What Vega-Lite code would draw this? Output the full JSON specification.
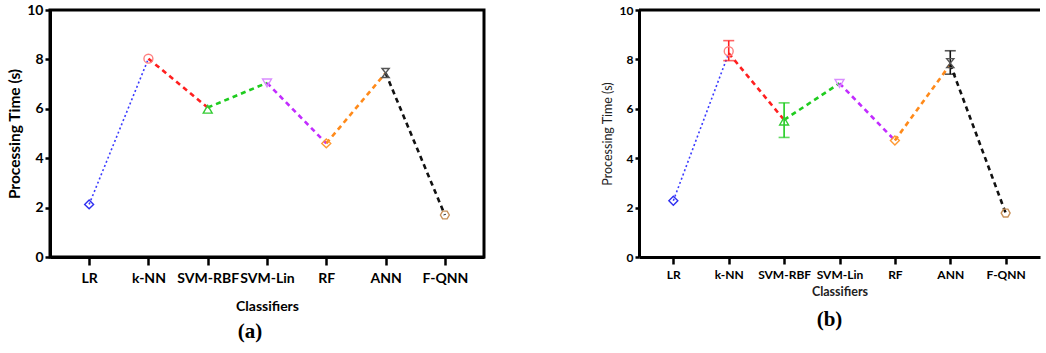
{
  "$schema": "https://vega.github.io/schema/vega-lite/v6.json",
  "background": "white",
  "padding": {"left": 6, "top": 1, "right": 0, "bottom": 0},
  "spacing": 115,
  "config": {"view": {"stroke": null}, "axis": {"grid": false}},
  "datasets": {
    "pts": [
      {"panel": "a", "classifier": "LR", "value": 2.13},
      {"panel": "a", "classifier": "k-NN", "value": 8.03},
      {"panel": "a", "classifier": "SVM-RBF", "value": 5.98},
      {"panel": "a", "classifier": "SVM-Lin", "value": 7.05},
      {"panel": "a", "classifier": "RF", "value": 4.6},
      {"panel": "a", "classifier": "ANN", "value": 7.45},
      {"panel": "a", "classifier": "F-QNN", "value": 1.7},
      {"panel": "b", "classifier": "LR", "value": 2.28},
      {"panel": "b", "classifier": "k-NN", "value": 8.33, "lo": 7.95, "hi": 8.76},
      {"panel": "b", "classifier": "SVM-RBF", "value": 5.5, "lo": 4.84, "hi": 6.24},
      {"panel": "b", "classifier": "SVM-Lin", "value": 7.03},
      {"panel": "b", "classifier": "RF", "value": 4.72},
      {"panel": "b", "classifier": "ANN", "value": 7.85, "lo": 7.4, "hi": 8.35},
      {"panel": "b", "classifier": "F-QNN", "value": 1.78}
    ],
    "segs": [
      {"panel": "a", "seg": "LR", "classifier": "LR", "value": 2.13},
      {"panel": "a", "seg": "LR", "classifier": "k-NN", "value": 8.03},
      {"panel": "a", "seg": "k-NN", "classifier": "k-NN", "value": 8.03},
      {"panel": "a", "seg": "k-NN", "classifier": "SVM-RBF", "value": 6.05},
      {"panel": "a", "seg": "SVM-RBF", "classifier": "SVM-RBF", "value": 6.05},
      {"panel": "a", "seg": "SVM-RBF", "classifier": "SVM-Lin", "value": 7.05},
      {"panel": "a", "seg": "SVM-Lin", "classifier": "SVM-Lin", "value": 7.05},
      {"panel": "a", "seg": "SVM-Lin", "classifier": "RF", "value": 4.6},
      {"panel": "a", "seg": "RF", "classifier": "RF", "value": 4.6},
      {"panel": "a", "seg": "RF", "classifier": "ANN", "value": 7.45},
      {"panel": "a", "seg": "ANN", "classifier": "ANN", "value": 7.45},
      {"panel": "a", "seg": "ANN", "classifier": "F-QNN", "value": 1.7},
      {"panel": "b", "seg": "LR", "classifier": "LR", "value": 2.28},
      {"panel": "b", "seg": "LR", "classifier": "k-NN", "value": 8.25},
      {"panel": "b", "seg": "k-NN", "classifier": "k-NN", "value": 8.25},
      {"panel": "b", "seg": "k-NN", "classifier": "SVM-RBF", "value": 5.55},
      {"panel": "b", "seg": "SVM-RBF", "classifier": "SVM-RBF", "value": 5.55},
      {"panel": "b", "seg": "SVM-RBF", "classifier": "SVM-Lin", "value": 7.03},
      {"panel": "b", "seg": "SVM-Lin", "classifier": "SVM-Lin", "value": 7.03},
      {"panel": "b", "seg": "SVM-Lin", "classifier": "RF", "value": 4.72},
      {"panel": "b", "seg": "RF", "classifier": "RF", "value": 4.72},
      {"panel": "b", "seg": "RF", "classifier": "ANN", "value": 7.8},
      {"panel": "b", "seg": "ANN", "classifier": "ANN", "value": 7.8},
      {"panel": "b", "seg": "ANN", "classifier": "F-QNN", "value": 1.78}
    ]
  },
  "hconcat": [
    {
      "width": 434,
      "height": 247,
      "view": {"stroke": "black", "strokeWidth": 3},
      "title": {"text": "(a)", "orient": "bottom", "dx": -17, "font": "Liberation Serif", "fontSize": 21, "fontWeight": "bold", "color": "black", "offset": 8},
      "layer": [
        {
          "data": {"name": "segs"},
          "transform": [{"filter": "datum.panel == 'a' && datum.seg == 'LR'"}],
          "mark": {"type": "line", "strokeDash": [2, 2.5], "strokeWidth": 1.6},
          "encoding": {
            "x": {"field": "classifier", "type": "ordinal", "sort": ["LR", "k-NN", "SVM-RBF", "SVM-Lin", "RF", "ANN", "F-QNN"], "scale": {"type": "point", "padding": 0.66}, "title": "Classifiers",
              "axis": {"domainWidth": 3, "domainColor": "black", "tickSize": 8, "tickWidth": 2.5, "tickColor": "black", "labelFont": "Lato", "labelFontSize": 14, "labelFontWeight": "bold", "labelColor": "black", "labelPadding": 6, "labelAngle": 0, "titleFont": "Lato", "titleFontSize": 14, "titleFontWeight": "bold", "titleColor": "black", "titlePadding": 14}},
            "y": {"field": "value", "type": "quantitative", "scale": {"domain": [0, 10], "nice": false}, "title": "Processing Time (s)",
              "axis": {"values": [0, 2, 4, 6, 8, 10], "domainWidth": 3, "domainColor": "black", "tickSize": 5, "tickWidth": 2.5, "tickColor": "black", "labelFont": "Lato", "labelFontSize": 14, "labelFontWeight": "bold", "labelColor": "black", "labelPadding": 2, "titleFont": "Lato", "titleFontSize": 15.5, "titleFontWeight": "bold", "titleColor": "black", "titlePadding": 4}},
            "color": {"field": "seg", "type": "nominal", "legend": null, "scale": {"domain": ["LR", "k-NN", "SVM-RBF", "SVM-Lin", "RF", "ANN"], "range": ["#3b3bff", "#ff1f1f", "#1fcc1f", "#c22cff", "#ff8a1a", "#111111"]}},
            "detail": {"field": "seg"}
          }
        },
        {
          "data": {"name": "segs"},
          "transform": [{"filter": "datum.panel == 'a' && datum.seg != 'LR'"}],
          "mark": {"type": "line", "strokeDash": [5, 4], "strokeWidth": 2.6},
          "encoding": {
            "x": {"field": "classifier", "type": "ordinal", "sort": ["LR", "k-NN", "SVM-RBF", "SVM-Lin", "RF", "ANN", "F-QNN"], "title": "Classifiers"},
            "y": {"field": "value", "type": "quantitative", "title": "Processing Time (s)"},
            "color": {"field": "seg", "type": "nominal", "legend": null},
            "detail": {"field": "seg"}
          }
        },
        {
          "data": {"name": "pts"},
          "transform": [{"filter": "datum.panel == 'a'"}],
          "mark": {"type": "point", "filled": false, "strokeWidth": 1.4, "size": 80, "opacity": 1},
          "encoding": {
            "x": {"field": "classifier", "type": "ordinal", "sort": ["LR", "k-NN", "SVM-RBF", "SVM-Lin", "RF", "ANN", "F-QNN"], "title": "Classifiers"},
            "y": {"field": "value", "type": "quantitative", "title": "Processing Time (s)"},
            "stroke": {"field": "classifier", "type": "nominal", "legend": null, "scale": {"domain": ["LR", "k-NN", "SVM-RBF", "SVM-Lin", "RF", "ANN", "F-QNN"], "range": ["#2f2ff0", "#ff8080", "#33cc33", "#d98cff", "#ff9933", "#555555", "#c8915a"]}},
            "shape": {"field": "classifier", "type": "nominal", "legend": null, "scale": {"domain": ["LR", "k-NN", "SVM-RBF", "SVM-Lin", "RF", "ANN", "F-QNN"], "range": ["diamond", "circle", "triangle-up", "triangle-down", "diamond", "M-0.8,-1H0.8L-0.8,1H0.8Z", "M-1,0L-0.5,-0.87L0.5,-0.87L1,0L0.5,0.87L-0.5,0.87Z"]}}
          }
        }
      ]
    },
    {
      "width": 401,
      "height": 247,
      "title": {"text": "(b)", "orient": "bottom", "dx": -10, "font": "Liberation Serif", "fontSize": 21, "fontWeight": "bold", "color": "black", "offset": 11},
      "layer": [
        {
          "data": {"values": [{}]},
          "mark": {"type": "rule", "strokeWidth": 3, "color": "black"},
          "encoding": {"y": {"datum": 10, "type": "quantitative", "title": "Processing Time (s)"}}
        },
        {
          "data": {"name": "segs"},
          "transform": [{"filter": "datum.panel == 'b' && datum.seg == 'LR'"}],
          "mark": {"type": "line", "strokeDash": [2, 2.5], "strokeWidth": 1.6},
          "encoding": {
            "x": {"field": "classifier", "type": "ordinal", "sort": ["LR", "k-NN", "SVM-RBF", "SVM-Lin", "RF", "ANN", "F-QNN"], "scale": {"type": "point", "padding": 0.62}, "title": "Classifiers",
              "axis": {"domainWidth": 3, "domainColor": "black", "tickSize": 7, "tickWidth": 2.5, "tickColor": "black", "labelFont": "Lato", "labelFontSize": 12, "labelFontWeight": "bold", "labelColor": "black", "labelPadding": 5, "labelAngle": 0, "titleFont": "Lato", "titleFontSize": 12.5, "titleFontWeight": "bold", "titleColor": "#222222", "titlePadding": 5}},
            "y": {"field": "value", "type": "quantitative", "scale": {"domain": [0, 10], "nice": false}, "title": "Processing Time (s)",
              "axis": {"values": [0, 2, 4, 6, 8, 10], "domainWidth": 3, "domainColor": "black", "tickSize": 4, "tickWidth": 2.5, "tickColor": "black", "labelFont": "Lato", "labelFontSize": 12, "labelFontWeight": "bold", "labelColor": "black", "labelPadding": 2, "titleFont": "Lato", "titleFontSize": 12.5, "titleFontWeight": "normal", "titleColor": "#222222", "titlePadding": 5}},
            "color": {"field": "seg", "type": "nominal", "legend": null, "scale": {"domain": ["LR", "k-NN", "SVM-RBF", "SVM-Lin", "RF", "ANN"], "range": ["#3b3bff", "#ff1f1f", "#1fcc1f", "#c22cff", "#ff8a1a", "#111111"]}},
            "detail": {"field": "seg"}
          }
        },
        {
          "data": {"name": "segs"},
          "transform": [{"filter": "datum.panel == 'b' && datum.seg != 'LR'"}],
          "mark": {"type": "line", "strokeDash": [5, 4], "strokeWidth": 2.6},
          "encoding": {
            "x": {"field": "classifier", "type": "ordinal", "sort": ["LR", "k-NN", "SVM-RBF", "SVM-Lin", "RF", "ANN", "F-QNN"], "title": "Classifiers"},
            "y": {"field": "value", "type": "quantitative", "title": "Processing Time (s)"},
            "color": {"field": "seg", "type": "nominal", "legend": null},
            "detail": {"field": "seg"}
          }
        },
        {
          "data": {"name": "pts"},
          "transform": [{"filter": "datum.panel == 'b' && isValid(datum.lo)"}],
          "mark": {"type": "rule", "strokeWidth": 1.6},
          "encoding": {
            "x": {"field": "classifier", "type": "ordinal", "sort": ["LR", "k-NN", "SVM-RBF", "SVM-Lin", "RF", "ANN", "F-QNN"], "title": "Classifiers"},
            "y": {"field": "lo", "type": "quantitative", "title": "Processing Time (s)"},
            "y2": {"field": "hi"},
            "color": {"field": "classifier", "type": "nominal", "legend": null}
          }
        },
        {
          "data": {"name": "pts"},
          "transform": [{"filter": "datum.panel == 'b' && isValid(datum.lo)"}],
          "mark": {"type": "tick", "thickness": 1.6, "size": 11},
          "encoding": {
            "x": {"field": "classifier", "type": "ordinal", "sort": ["LR", "k-NN", "SVM-RBF", "SVM-Lin", "RF", "ANN", "F-QNN"], "title": "Classifiers"},
            "y": {"field": "lo", "type": "quantitative", "title": "Processing Time (s)"},
            "color": {"field": "classifier", "type": "nominal", "legend": null}
          }
        },
        {
          "data": {"name": "pts"},
          "transform": [{"filter": "datum.panel == 'b' && isValid(datum.lo)"}],
          "mark": {"type": "tick", "thickness": 1.6, "size": 11},
          "encoding": {
            "x": {"field": "classifier", "type": "ordinal", "sort": ["LR", "k-NN", "SVM-RBF", "SVM-Lin", "RF", "ANN", "F-QNN"], "title": "Classifiers"},
            "y": {"field": "hi", "type": "quantitative", "title": "Processing Time (s)"},
            "color": {"field": "classifier", "type": "nominal", "legend": null}
          }
        },
        {
          "data": {"name": "pts"},
          "transform": [{"filter": "datum.panel == 'b'"}],
          "mark": {"type": "point", "filled": false, "strokeWidth": 1.4, "size": 80, "opacity": 1},
          "encoding": {
            "x": {"field": "classifier", "type": "ordinal", "sort": ["LR", "k-NN", "SVM-RBF", "SVM-Lin", "RF", "ANN", "F-QNN"], "title": "Classifiers"},
            "y": {"field": "value", "type": "quantitative", "title": "Processing Time (s)"},
            "stroke": {"field": "classifier", "type": "nominal", "legend": null, "scale": {"domain": ["LR", "k-NN", "SVM-RBF", "SVM-Lin", "RF", "ANN", "F-QNN"], "range": ["#2f2ff0", "#ff8080", "#33cc33", "#d98cff", "#ff9933", "#666666", "#c8915a"]}},
            "shape": {"field": "classifier", "type": "nominal", "legend": null, "scale": {"domain": ["LR", "k-NN", "SVM-RBF", "SVM-Lin", "RF", "ANN", "F-QNN"], "range": ["M-1,0L0,-1L1,0L0,1Z M-1,0H1 M0,-1V1", "circle", "triangle-up", "M-1,-0.8L1,0.8V-0.8L-1,0.8Z", "M-1,0L-0.5,-0.87L0.5,-0.87L1,0L0.5,0.87L-0.5,0.87Z", "M-1,-0.8V0.8L1,-0.8V0.8Z", "M-1,0A1,1 0 1,0 1,0A1,1 0 1,0 -1,0M-1,0H1"]}}
          }
        }
      ]
    }
  ]
}
